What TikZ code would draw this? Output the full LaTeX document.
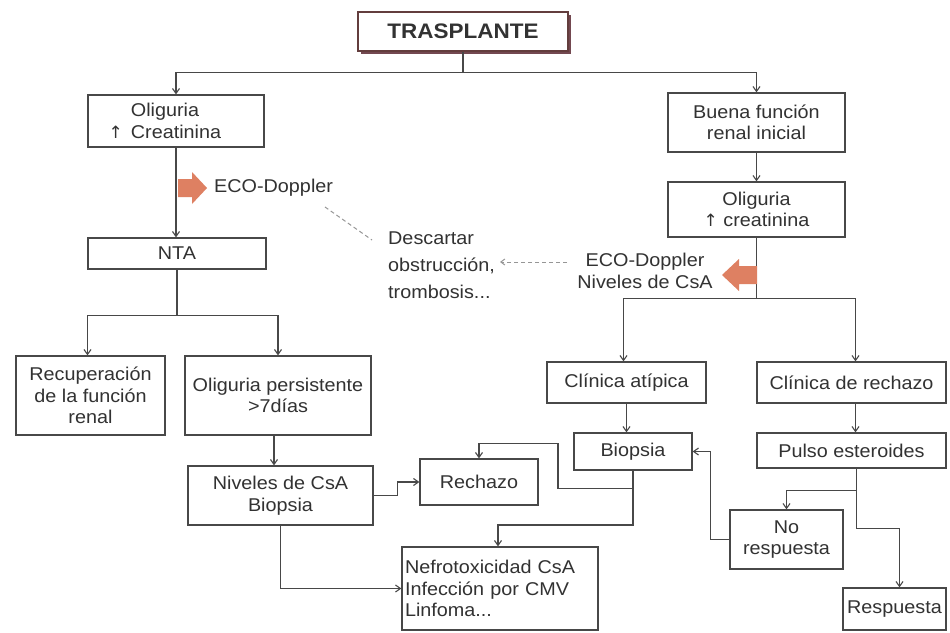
\documentclass[tikz,border=0pt]{standalone}
\usepackage{fontspec}
\setmainfont{Liberation Sans}[FakeStretch=1.07]
\newfontfamily\symfont{DejaVu Sans}
\usetikzlibrary{arrows.meta,shadows,calc}

\definecolor{ink}{RGB}{50,50,50}
\definecolor{edge}{RGB}{72,72,72}
\definecolor{salmon}{RGB}{222,128,98}
\definecolor{dashgray}{RGB}{150,150,150}
\definecolor{shadowred}{RGB}{115,72,80}

\newcommand{\boxfont}{\fontsize{18.5}{21.5}\selectfont}
\newcommand{\uparrowmark}{{\symfont\fontsize{17}{17}\selectfont↑}}

\tikzset{
  box/.style={draw=edge, line width=1.2pt, fill=white, inner sep=0pt,
              align=center, font=\boxfont, text=ink},
  plain/.style={inner sep=0pt, font=\boxfont, text=ink},
  link/.style={draw=edge, line width=1.1pt, -{Straight Barb[length=5pt,width=7pt]}},
  wire/.style={draw=edge, line width=1.1pt},
  hint/.style={draw=dashgray, line width=1pt, dash pattern=on 4pt off 3pt},
  fatarrow/.style={fill=salmon, draw=none},
}

\begin{document}
\begin{tikzpicture}[x=1pt,y=-1pt]
\useasboundingbox (0,0) rectangle (950,632);
\fill[white] (0,0) rectangle (950,632);

% root
\node[box, minimum width=210, minimum height=39,
      font=\fontsize{21}{24}\selectfont\bfseries, draw=edge!85!red,
      drop shadow={shadow xshift=3pt, shadow yshift=-3pt, fill=shadowred, opacity=1}]
      (tras) at (463,31.5) {TRASPLANTE};

% left branch
\node[box, minimum width=176, minimum height=52, align=left] (oligL) at (176,121)
     {Oliguria\\\llap{\uparrowmark\hspace{8pt}}Creatinina};
\node[box, minimum width=178, minimum height=31] (nta) at (177,253.5) {NTA};
\node[box, minimum width=149, minimum height=79] (recup) at (90.5,395.5)
     {Recuperación\\de la función\\renal};
\node[box, minimum width=186, minimum height=79] (olipers) at (278,395.5)
     {Oliguria persistente\\>7días};
\node[box, minimum width=185, minimum height=59] (niveles) at (280.5,495.5)
     {Niveles de CsA\\Biopsia};
\node[box, minimum width=118, minimum height=46] (rechazo) at (479,482) {Rechazo};
\node[box, minimum width=196, minimum height=83, align=left, text width=190]
     (nefro) at (500,588.5) {Nefrotoxicidad CsA\\Infección por CMV\\Linfoma...};

% right branch
\node[box, minimum width=177, minimum height=59] (buena) at (756.5,122.5)
     {Buena función\\renal inicial};
\node[box, minimum width=177, minimum height=55] (oligR) at (756.5,209.5)
     {Oliguria\\\uparrowmark\ creatinina};
\node[box, minimum width=159, minimum height=41] (catip) at (626.5,382.5) {Clínica atípica};
\node[box, minimum width=189, minimum height=41] (crech) at (851.5,382.5) {Clínica de rechazo};
\node[box, minimum width=118, minimum height=37] (biop) at (633,451.5) {Biopsia};
\node[box, minimum width=189, minimum height=35] (pulso) at (851.5,450.5) {Pulso esteroides};
\node[box, minimum width=113, minimum height=59] (nores) at (786.5,539.5) {No\\respuesta};
\node[box, minimum width=103, minimum height=42] (resp) at (894.5,609) {Respuesta};

% free labels
\node[plain, anchor=west] (ecoL) at (214,188) {ECO-Doppler};
\node[plain, align=center] (ecoR) at (645,271) {ECO-Doppler\\Niveles de CsA};
\node[plain, anchor=west, align=left, font=\fontsize{18.5}{27}\selectfont]
     (desc) at (388,265) {Descartar\\obstrucción,\\trombosis...};

% root split
\path (tras.south) ++(0,21) coordinate (tj);
\draw[wire] (tras.south) -- (tj);
\draw[link] (tj) -| (oligL.north);
\draw[link] (tj) -| (buena.north);

% left chain
\draw[link] (oligL.south) -- (oligL.south |- nta.north);
\path (nta.south) ++(0,46) coordinate (nj);
\draw[wire] (nta.south) -- (nj);
\draw[link] (nj) -| ($(recup.north)+(-3,0)$);
\draw[link] (nj) -| (olipers.north);
\draw[link] ($(olipers.south)+(-4,0)$) -- ($(olipers.south |- niveles.north)+(-4,0)$);
\draw[link] (niveles.east) -- ++(24,0) |- (rechazo.west);
\draw[link] (niveles.south) |- (nefro.west);

% right chain
\draw[link] (buena.south) -- (oligR.north);
\path (oligR.south) ++(0,61) coordinate (rj);
\draw[wire] (oligR.south) -- (rj);
\draw[link] (rj) -| ($(catip.north)+(-3,0)$);
\draw[link] (rj) -| ($(crech.north)+(4,0)$);
\draw[link] (catip.south) -- (catip.south |- biop.north);
\draw[link] ($(crech.south)+(4,0)$) -- ($(crech.south |- pulso.north)+(4,0)$);

% biopsy outcomes
\path (biop.south) ++(0,18) coordinate (bj);
\draw[wire] (biop.south) -- (bj);
\draw[link] (bj) -- ++(-75,0) -- ++(0,-45) -| (rechazo.north);
\coordinate (nk) at (498,525);
\draw[link] (bj) |- (nk) -- (nk |- nefro.north);

% steroid pulse outcomes
\path (pulso.south) ++(5,0) coordinate (ps);
\path (ps) ++(0,22) coordinate (pm);
\path (ps) ++(0,60) coordinate (pe);
\draw[wire] (ps) -- (pe);
\draw[link] (pm) -| (nores.north);
\draw[link] (pe) -| ($(resp.north)+(5,0)$);
\draw[link] (nores.west) -- ++(-19,0) |- (biop.east);

% dashed hints
\coordinate (hA) at (325,207);
\coordinate (hB) at (372,240);
\draw[hint] (hA) -- (hB);
\coordinate (hC) at (567,262);
\coordinate (hD) at (500,262);
\draw[hint, -{Straight Barb[length=4pt,width=6pt]}] (hC) -- (hD);

% fat arrows
\fill[fatarrow] (178,179) -- (192,179) -- (192,172) -- (207,188) -- (192,204)
                -- (192,197) -- (178,197) -- cycle;
\fill[fatarrow] (757,266) -- (739,266) -- (739,259) -- (722,275) -- (739,291)
                -- (739,284) -- (757,284) -- cycle;
\end{tikzpicture}
\end{document}
